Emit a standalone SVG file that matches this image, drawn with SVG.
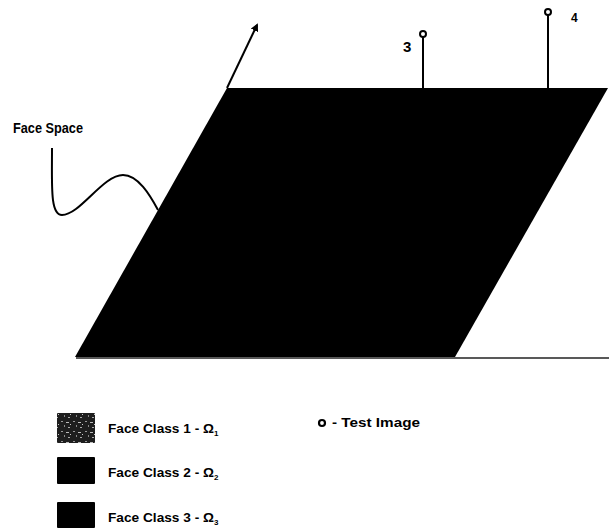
<svg xmlns="http://www.w3.org/2000/svg" width="609" height="530" viewBox="0 0 609 530">
<style>
.t{font-family:"Liberation Sans",Arial,sans-serif;font-weight:bold;fill:#000}
.ln{stroke:#000;stroke-width:2;fill:none}
</style>
<defs>
<marker id="ah" markerWidth="8" markerHeight="8" refX="6" refY="4" orient="auto" markerUnits="userSpaceOnUse">
<path d="M0,0 L8,4 L0,8 z" fill="#000"/>
</marker>
<pattern id="tex" width="12" height="10" patternUnits="userSpaceOnUse">
<rect width="12" height="10" fill="#1e1e1e"/>
<rect x="1" y="1" width="2" height="1" fill="#999"/>
<rect x="6" y="2" width="3" height="1" fill="#bbb"/>
<rect x="4" y="5" width="1" height="2" fill="#888"/>
<rect x="8" y="7" width="2" height="1" fill="#aaa"/>
<rect x="10" y="4" width="1" height="1" fill="#ccc"/>
</pattern>
</defs>
<rect width="609" height="530" fill="#fff"/>
<g id="face-space-plane">
<line x1="76" y1="358" x2="609" y2="358" stroke="#222" stroke-width="1.5"/>
<polygon points="227,88 608,88 455,357 75,357" fill="#000"/>
</g>
<g id="connectors">
<line class="ln" x1="227" y1="88" x2="257" y2="25" marker-end="url(#ah)"/>
<path class="ln" d="M52,148 C52,185 50,215 62,215 C80,215 103,175 123,175 C138,175 150,195 158,210"/>
<line class="ln" x1="423" y1="37" x2="423" y2="88"/>
<line class="ln" x1="548" y1="15" x2="548" y2="88"/>
</g>
<g id="face-space-label"><text class="t" x="13" y="133" font-size="14" textLength="70" lengthAdjust="spacingAndGlyphs">Face Space</text></g>
<g id="test-3">
<circle cx="423" cy="34" r="3" fill="#fff" stroke="#000" stroke-width="2"/>
<text class="t" x="403" y="52" font-size="15">3</text>
</g>
<g id="test-4">
<circle cx="548" cy="12" r="3" fill="#fff" stroke="#000" stroke-width="2"/>
<text class="t" x="571" y="22" font-size="12">4</text>
</g>
<g id="legend-1">
<rect x="57" y="413" width="38" height="30" fill="url(#tex)" rx="1"/>
<text class="t" x="108" y="433" font-size="13.5" textLength="106" lengthAdjust="spacingAndGlyphs">Face Class 1 - Ω</text>
<text class="t" x="214" y="436" font-size="8">1</text>
</g>
<g id="legend-2">
<rect x="57" y="457" width="38" height="27" fill="#000" rx="1"/>
<text class="t" x="108" y="477" font-size="13.5" textLength="106" lengthAdjust="spacingAndGlyphs">Face Class 2 - Ω</text>
<text class="t" x="214" y="480" font-size="8">2</text>
</g>
<g id="legend-3">
<rect x="57" y="502" width="38" height="26" fill="#000" rx="1"/>
<text class="t" x="108" y="522" font-size="13.5" textLength="106" lengthAdjust="spacingAndGlyphs">Face Class 3 - Ω</text>
<text class="t" x="214" y="525" font-size="8">3</text>
</g>
<g id="legend-test">
<circle cx="322" cy="423" r="3" fill="#fff" stroke="#000" stroke-width="2.2"/>
<text class="t" x="332" y="427" font-size="13" textLength="88" lengthAdjust="spacingAndGlyphs">- Test Image</text>
</g>
</svg>
